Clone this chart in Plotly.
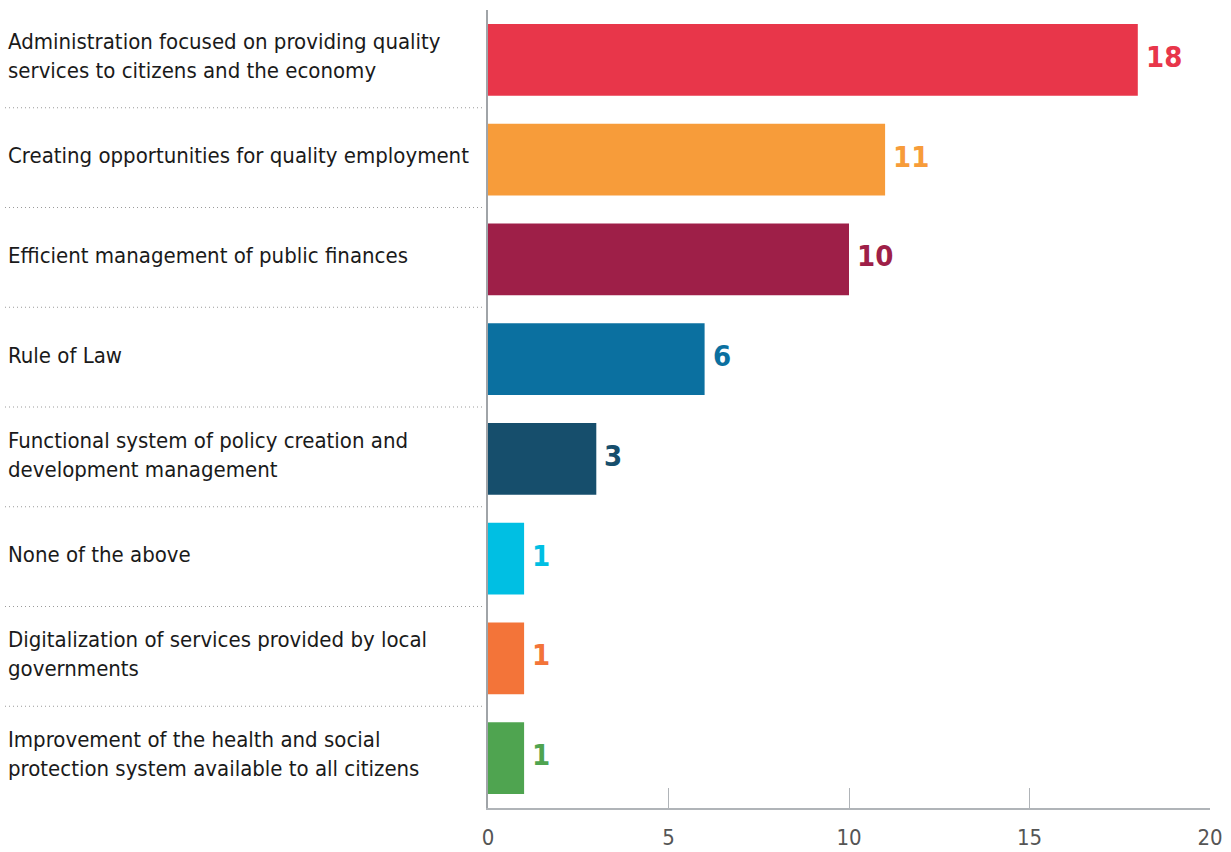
import plotly.graph_objects as go

categories = [
    "Administration focused on providing quality<br>services to citizens and the economy",
    "Creating opportunities for quality employment",
    "Efficient management of public finances",
    "Rule of Law",
    "Functional system of policy creation and<br>development management",
    "None of the above",
    "Digitalization of services provided by local<br>governments",
    "Improvement of the health and social<br>protection system available to all citizens",
]
values = [18, 11, 10, 6, 3, 1, 1, 1]
colors = ["#E8364A", "#F79C3A", "#9E1F48", "#0B70A0", "#164E6C", "#00BFE3", "#F37439", "#4FA450"]
x_ticks = [0, 5, 10, 15, 20]

FONT = "DejaVu Sans Condensed, Liberation Sans Narrow, sans-serif"

W, H = 1231, 852
ML, MR, MT, MB = 488, 21, 10, 44
plot_w = W - ML - MR

ypos = list(range(len(categories)))

fig = go.Figure()
fig.add_trace(go.Bar(
    x=values, y=ypos, orientation="h",
    marker=dict(color=colors, line=dict(width=0)),
    width=0.72,
    hoverinfo="skip",
))

annotations = []
for i, c in enumerate(categories):
    annotations.append(dict(
        x=(6 - ML) / plot_w, xref="paper", y=i, yref="y",
        text=c, showarrow=False, xanchor="left", align="left", yanchor="middle",
        yshift=4,
        font=dict(family=FONT, size=22, color="#1a1a1a"),
    ))
for i, (v, col) in enumerate(zip(values, colors)):
    annotations.append(dict(
        x=v, xref="x", y=i, yref="y", text="<b>%d</b>" % v, showarrow=False,
        xanchor="left", yanchor="middle", xshift=6, yshift=3,
        font=dict(family=FONT, size=29, color=col),
    ))

shapes = []
for i in range(len(categories) - 1):
    shapes.append(dict(
        type="line", xref="paper", yref="y",
        x0=(5 - ML) / plot_w, x1=(482 - ML) / plot_w,
        y0=i + 0.48, y1=i + 0.48,
        line=dict(color="#9a9a9a", width=1, dash="1px,3px"),
    ))

fig.update_layout(
    width=W, height=H,
    margin=dict(l=ML, r=MR, t=MT, b=MB, autoexpand=False),
    paper_bgcolor="white", plot_bgcolor="white",
    showlegend=False,
    annotations=annotations,
    shapes=shapes,
)
fig.update_xaxes(
    range=[0, 20], tickvals=x_ticks, ticktext=[str(t) for t in x_ticks],
    showgrid=False, zeroline=False,
    showline=True, linecolor="#b0b4b8", linewidth=2,
    ticks="inside", ticklen=20, tickcolor="#b0b4b8", tickwidth=1,
    tickfont=dict(family=FONT, size=22, color="#555555"),
    ticklabelstandoff=9,
    automargin=False,
    fixedrange=True,
)
fig.update_yaxes(
    range=[7.5, -0.5], showticklabels=False, showgrid=False, zeroline=False,
    showline=True, linecolor="#a0a4a8", linewidth=2, ticks="",
    automargin=False,
    fixedrange=True,
)

fig.write_html("out.html")
